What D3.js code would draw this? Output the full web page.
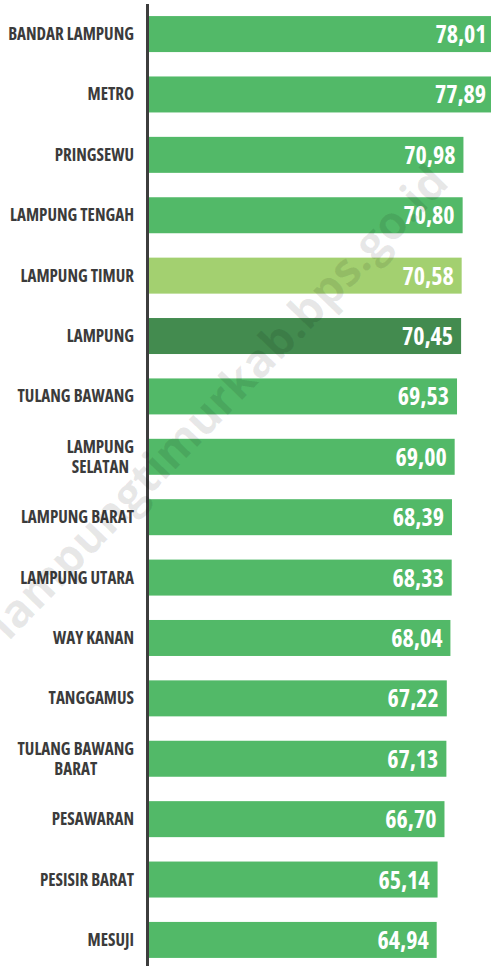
<!DOCTYPE html>
<html>
<head>
<meta charset="utf-8">
<script src="https://cdn.jsdelivr.net/npm/d3@7"></script>
<style>
  html, body { margin: 0; padding: 0; background: #fff; overflow: hidden; }
  .lbl { font-family: "Open Sans", sans-serif; font-weight: bold; font-stretch: 75%; fill: #3b3b3b; }
  .val { font-family: "Open Sans", sans-serif; font-weight: bold; font-stretch: 75%; fill: #fff; }
</style>
</head>
<body>
<div id="chart"></div>
<script>
// data
var regions = ["BANDAR LAMPUNG", "METRO", "PRINGSEWU", "LAMPUNG TENGAH", "LAMPUNG TIMUR",
  "LAMPUNG", "TULANG BAWANG", "LAMPUNG SELATAN", "LAMPUNG BARAT", "LAMPUNG UTARA",
  "WAY KANAN", "TANGGAMUS", "TULANG BAWANG BARAT", "PESAWARAN", "PESISIR BARAT", "MESUJI"];
var values = [78.01, 77.89, 70.98, 70.80, 70.58, 70.45, 69.53, 69.00, 68.39, 68.33,
  68.04, 67.22, 67.13, 66.70, 65.14, 64.94];
// how the long names are broken on two lines
var labelLines = {
  "LAMPUNG SELATAN": ["LAMPUNG", "SELATAN"],
  "TULANG BAWANG BARAT": ["TULANG BAWANG", "BARAT"]
};
var highlight = "LAMPUNG TIMUR";
var province = "LAMPUNG";

var width = 491, height = 966;
var left = 149;

var data = regions.map(function(d, i) { return {name: d, value: values[i]}; });

var svg = d3.select("#chart").append("svg")
    .attr("width", width)
    .attr("height", height);

// x scale, zero at the axis line
var x = d3.scaleLinear()
    .domain([0, 80])
    .range([left, left + 80 * 4.43]);

var y = d3.scaleBand()
    .domain(regions)
    .range([4, 970])
    .paddingInner(0.404)
    .paddingOuter(0.2);

function barColor(d) {
  if (d.name == highlight) return "#a3d070";
  if (d.name == province) return "#438b4f";
  return "#52b968";
}

// bars
svg.append("g")
  .selectAll("rect")
  .data(data)
  .enter()
  .append("rect")
    .attr("x", x(0))
    .attr("y", function(d) { return y(d.name); })
    .attr("width", function(d) { return x(d.value) - x(0); })
    .attr("height", y.bandwidth())
    .style("fill", barColor);

// values inside the bars
svg.append("g")
  .selectAll("text")
  .data(data)
  .enter()
  .append("text")
    .attr("class", "val")
    .attr("x", function(d) { return x(d.value) - 8; })
    .attr("y", function(d) { return y(d.name) + y.bandwidth() / 2 + 9; })
    .attr("text-anchor", "end")
    .style("font-size", "24px")
    .text(function(d) { return d.value.toFixed(2).replace(".", ","); });

// category labels, right edge at 134, lines centred on each other
var labels = svg.append("g")
  .selectAll("text")
  .data(data)
  .enter()
  .append("text")
    .attr("class", "lbl")
    .style("font-size", "17px")
    .attr("text-anchor", "middle");

labels.each(function(d) {
  var lines = labelLines[d.name] || [d.name];
  var t = d3.select(this);
  var cy = y(d.name) + y.bandwidth() / 2;
  var spans = lines.map(function(line, i) {
    return t.append("tspan")
      .attr("y", cy + 6 + (i - (lines.length - 1) / 2) * 20)
      .text(line);
  });
  var w = d3.max(spans, function(s) { return s.node().getComputedTextLength(); });
  spans.forEach(function(s) { s.attr("x", 134 - w / 2); });
});

// axis line
svg.append("line")
  .attr("x1", left - 1.5)
  .attr("x2", left - 1.5)
  .attr("y1", 4)
  .attr("y2", height)
  .style("stroke", "#3d3d3d")
  .style("stroke-width", 3);

// watermark
svg.append("text")
  .attr("transform", "translate(218,402) rotate(-46)")
  .attr("text-anchor", "middle")
  .attr("dy", "0.35em")
  .style("font-family", "'Open Sans', sans-serif")
  .style("font-weight", "bold")
  .style("font-size", "46px")
  .style("fill", "#000")
  .style("fill-opacity", 0.09)
  .text("lampungtimurkab.bps.go.id");
</script>
</body>
</html>
